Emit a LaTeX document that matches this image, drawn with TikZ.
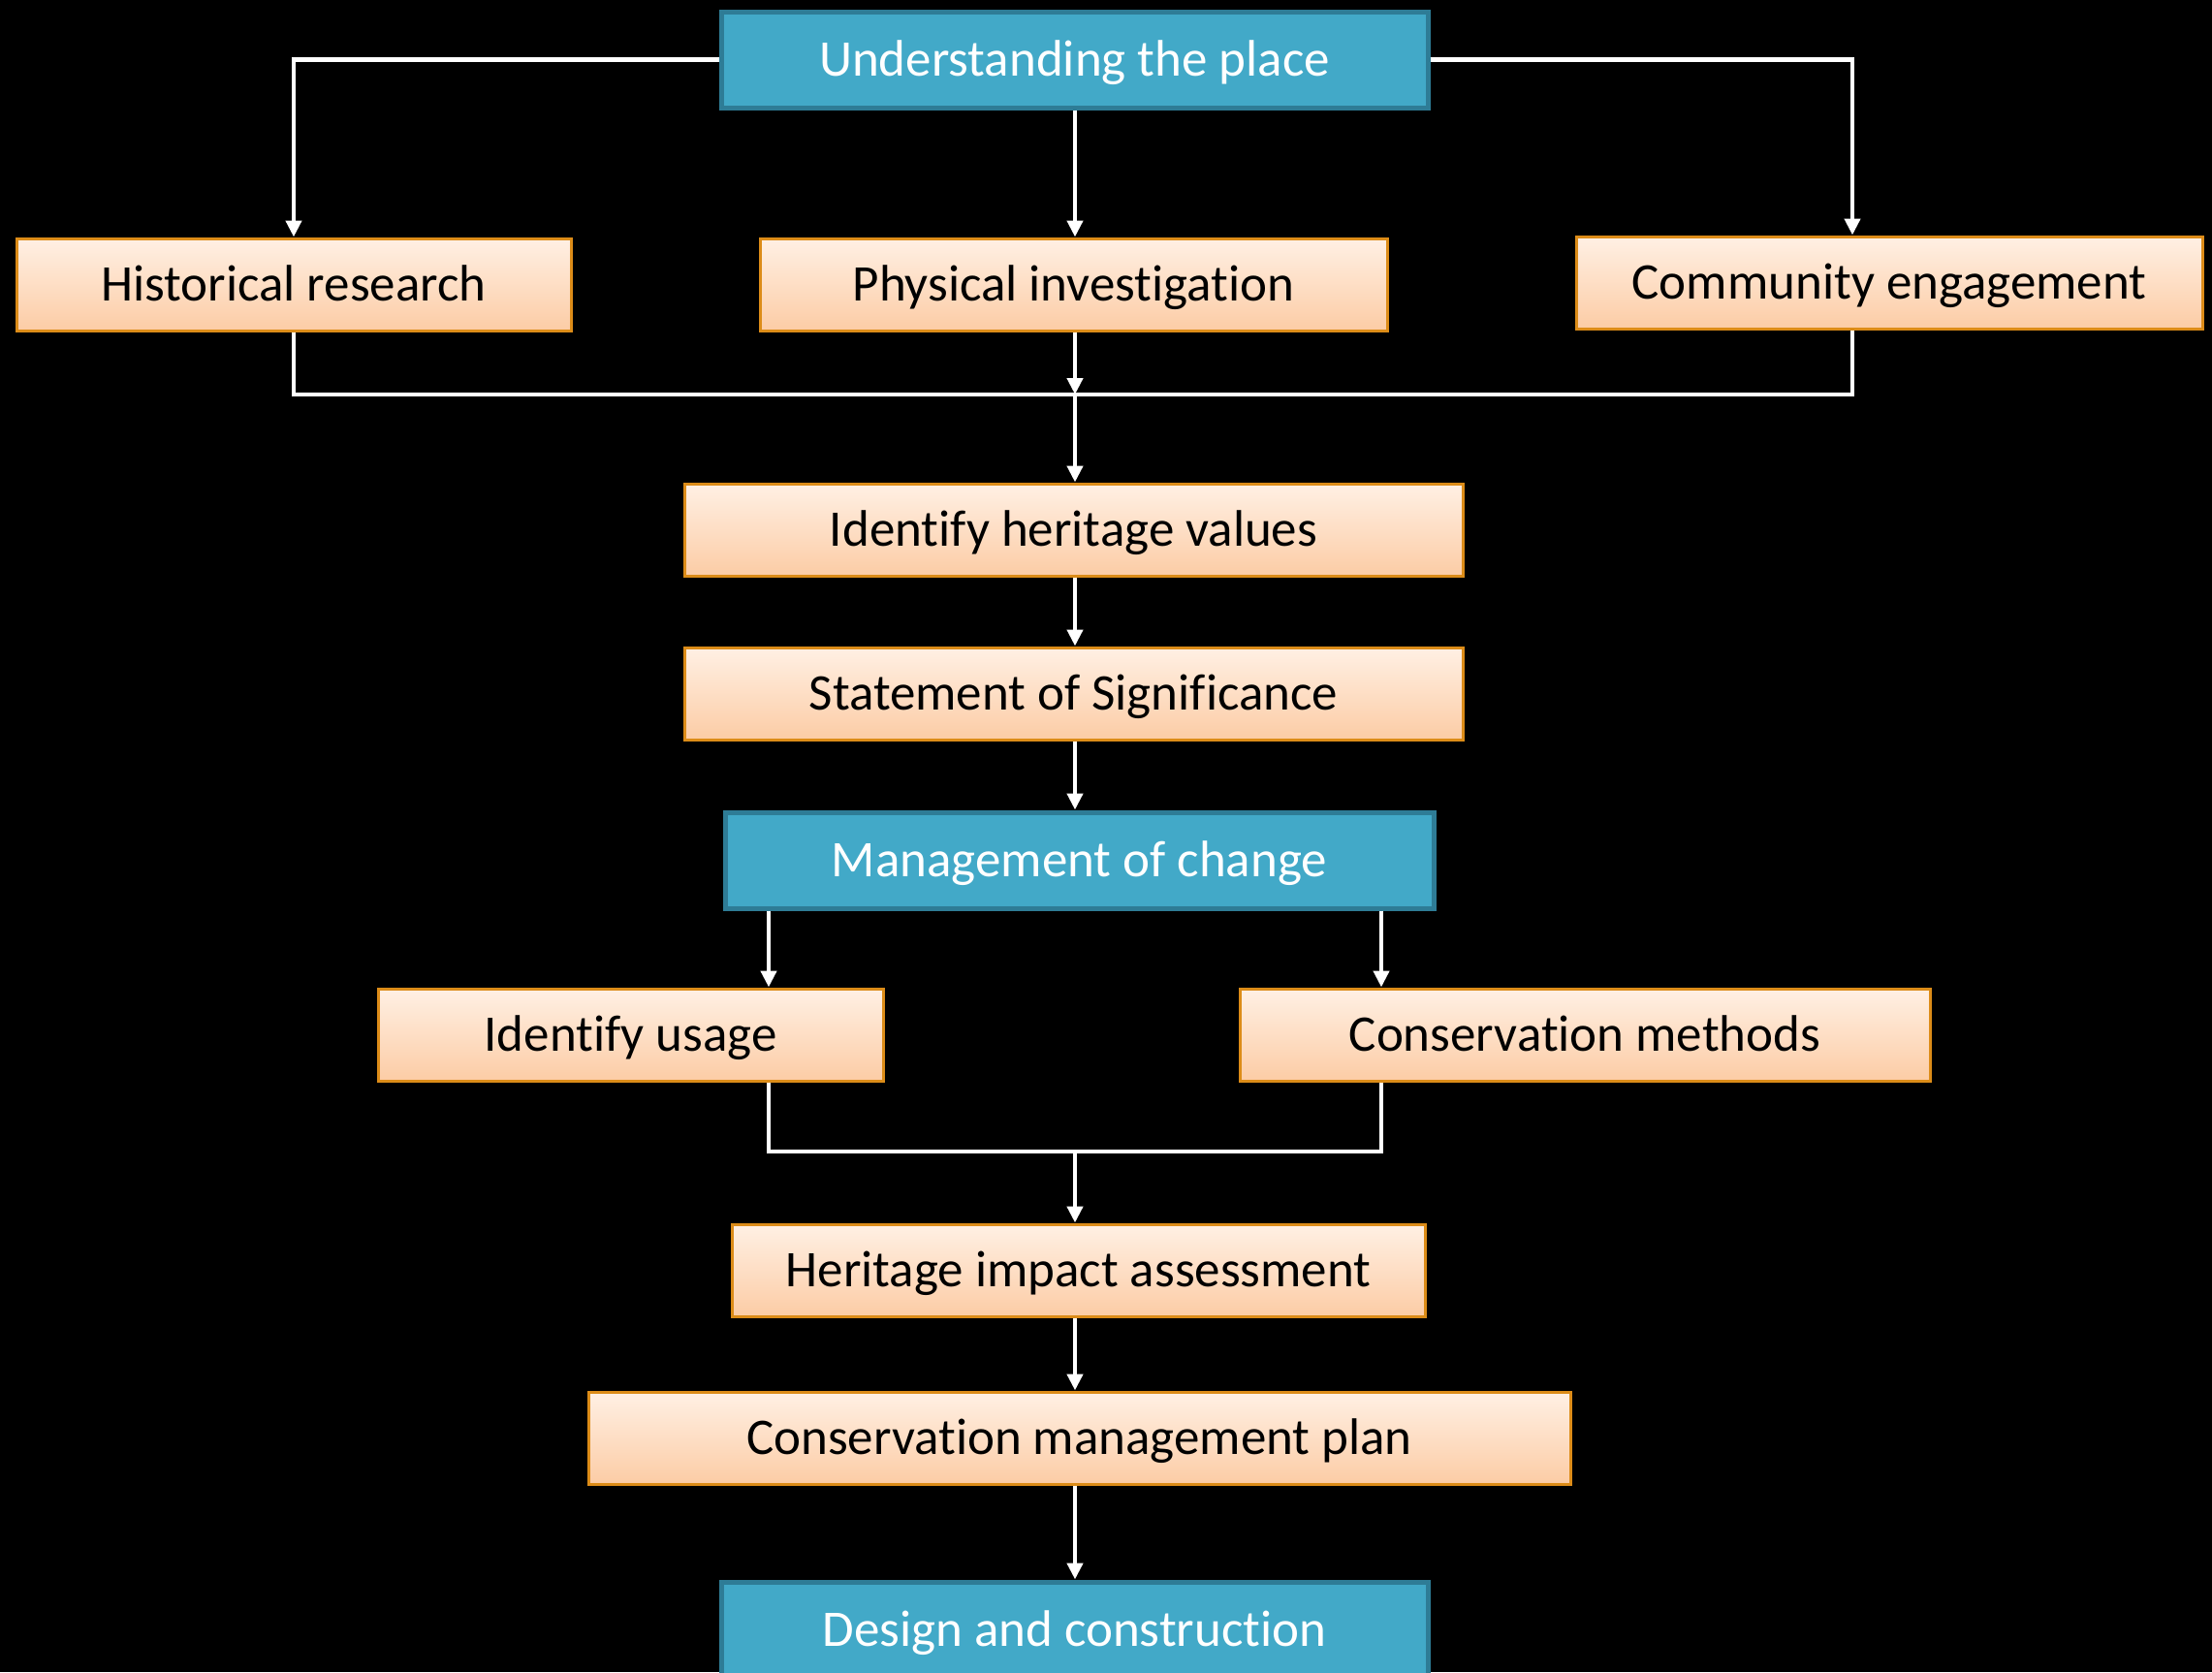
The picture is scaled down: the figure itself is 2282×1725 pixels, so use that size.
\documentclass[tikz,border=0pt]{standalone}
\usepackage{fontspec}
\setmainfont{Carlito}[Ligatures={NoCommon}]
\usetikzlibrary{arrows.meta}
\definecolor{tealfill}{RGB}{66,169,200}
\definecolor{tealline}{RGB}{46,124,150}
\definecolor{orangetop}{RGB}{255,240,228}
\definecolor{orangebot}{RGB}{252,204,165}
\definecolor{orangeline}{RGB}{220,140,24}
\begin{document}
\begin{tikzpicture}[x=1pt,y=-1pt,
  boxtext/.style={font=\fontsize{53}{60}\selectfont, text height=34pt, text depth=0pt, inner sep=0pt},
  bluebox/.style={boxtext, draw=tealline, line width=5pt, fill=tealfill, text=white,
    minimum height=99pt},
  orangebox/.style={boxtext, draw=orangeline, line width=3pt, top color=orangetop, bottom color=orangebot,
    text=black, minimum height=95pt},
  conn/.style={draw=white, line width=4.5pt},
  arr/.style={conn, -{Triangle[length=17pt,width=16pt]}}]
\fill[black] (0,0) rectangle (2282,1725);
\useasboundingbox (0,0) rectangle (2282,1725);

\node[bluebox, minimum width=729pt] (up) at (1108.5,61.5) {Understanding the place};
\node[orangebox, minimum width=572pt] (hist) at (303,293.5) {Historical research};
\node[orangebox, minimum width=647pt] (phys) at (1107.5,293.5) {Physical investigation};
\node[orangebox, minimum width=646pt] (comm) at (1949,291.5) {Community engagement};
\node[orangebox, minimum width=803pt] (ihv) at (1107.5,546.5) {Identify heritage values};
\node[orangebox, minimum width=803pt] (sos) at (1107.5,715.5) {Statement of Significance};
\node[bluebox, minimum width=731pt] (moc) at (1113.5,887.5) {Management of change};
\node[orangebox, minimum width=521pt] (iu) at (650.5,1067.5) {Identify usage};
\node[orangebox, minimum width=712pt] (cm) at (1635,1067.5) {Conservation methods};
\node[orangebox, minimum width=715pt] (hia) at (1112.5,1310.5) {Heritage impact assessment};
\node[orangebox, minimum width=1013pt] (cmp) at (1113.5,1483.5) {Conservation management plan};
\node[bluebox, minimum width=729pt] (dc) at (1108.5,1681.5) {Design and construction};

\coordinate (cx) at (1109,0);
\coordinate (rx) at (1911,0);
\coordinate (j1) at (1109,407);
\coordinate (mL) at (793,0);
\coordinate (mR) at (1425,0);
\coordinate (j2) at (1109,1188);

% top level
\draw[arr] (up.west) -| (hist.north);
\draw[arr] (up.south -| cx) -- (phys.north -| cx);
\draw[arr] (up.east) -| (comm.north -| rx);
% merge of three
\draw[conn] (hist.south) |- (j1 -| rx) -- (comm.south -| rx);
\draw[arr] (phys.south -| cx) -- (j1);
\draw[arr] (j1) -- (ihv.north -| cx);
\draw[arr] (ihv.south -| cx) -- (sos.north -| cx);
\draw[arr] (sos.south -| cx) -- (moc.north -| cx);
% management split
\draw[arr] (moc.south -| mL) -- (iu.north -| mL);
\draw[arr] (moc.south -| mR) -- (cm.north -| mR);
\draw[conn] (iu.south -| mL) |- (j2 -| mR) -- (cm.south -| mR);
\draw[arr] (j2) -- (hia.north -| cx);
\draw[arr] (hia.south -| cx) -- (cmp.north -| cx);
\draw[arr] (cmp.south -| cx) -- (dc.north -| cx);
\end{tikzpicture}
\end{document}
